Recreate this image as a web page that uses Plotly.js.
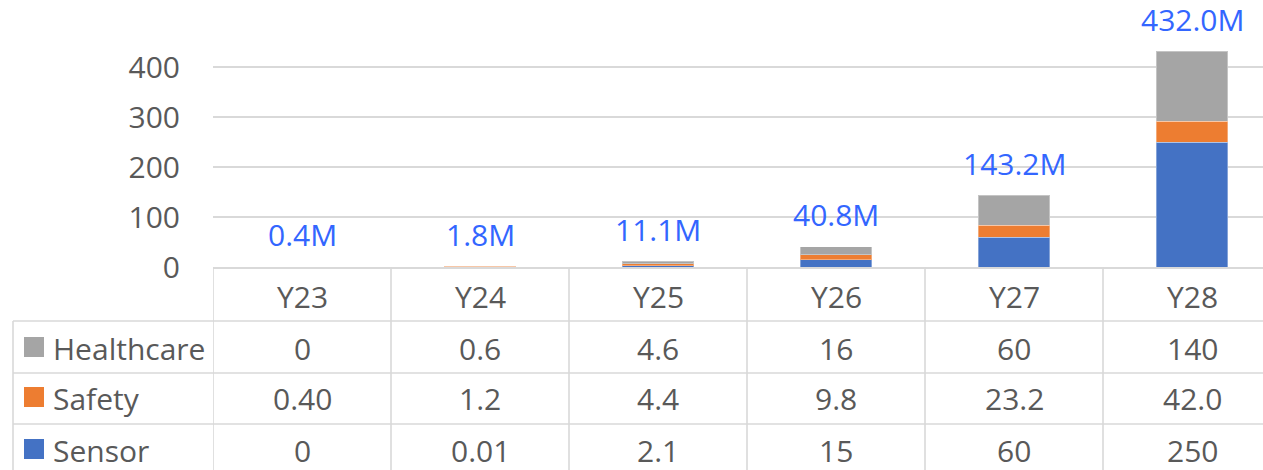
<!DOCTYPE html>
<html>
<head>
<meta charset="utf-8">
<script src="https://cdn.plot.ly/plotly-3.0.1.min.js"></script>
<style>
html,body{margin:0;padding:0;overflow:hidden;background:#fff;width:1263px;height:470px;}
#chart{width:1281px;height:470px;}
</style>
</head>
<body>
<div id="chart"></div>
<script>
// ---- data ----
const categories = ["Y23", "Y24", "Y25", "Y26", "Y27", "Y28"];
const sensor     = [0, 0.01, 2.1, 15, 60, 250];
const safety     = [0.4, 1.2, 4.4, 9.8, 23.2, 42.0];
const healthcare = [0, 0.6, 4.6, 16, 60, 140];
const sensorText     = ["0", "0.01", "2.1", "15", "60", "250"];
const safetyText     = ["0.40", "1.2", "4.4", "9.8", "23.2", "42.0"];
const healthcareText = ["0", "0.6", "4.6", "16", "60", "140"];
const yTicks = [0, 100, 200, 300, 400];

// ---- styling / geometry ----
const FONT = "Open Sans, Noto Sans, sans-serif";
const FS = 30;
const TXT = "#595959";
const LINE = "#d9d9d9";
const L = 213, T = 17, W = 1068, H = 250, FULLW = 1281, FULLH = 470;
const px = v => (v - L) / W;          // pixel x -> paper x
const py = v => (T + H - v) / H;      // pixel y -> paper y

const colors = {Healthcare: "#a5a5a5", Safety: "#ed7d31", Sensor: "#4472c4"};

const traces = [
  {name: "Sensor", y: sensor, color: colors.Sensor},
  {name: "Safety", y: safety, color: colors.Safety},
  {name: "Healthcare", y: healthcare, color: colors.Healthcare}
].map(s => ({
  type: "bar", x: categories, y: s.y, name: s.name,
  marker: {color: s.color, line: {color: "rgba(255,255,255,0.35)", width: 1}},
  hoverinfo: "x+y+name"
}));

const totals = categories.map((c, i) => sensor[i] + safety[i] + healthcare[i]);

const annotations = [];
// total labels
categories.forEach((c, i) => {
  annotations.push({
    x: c, y: totals[i], xref: "x", yref: "y",
    text: totals[i].toFixed(1) + "M", showarrow: false,
    yanchor: "middle", yshift: 32,
    font: {family: FONT, size: FS, color: "#3366ff"}
  });
});

// table rows
const rowCenters = [296, 348, 398, 450];
const rows = [
  {name: "Healthcare", text: healthcareText},
  {name: "Safety", text: safetyText},
  {name: "Sensor", text: sensorText}
];
categories.forEach((c, i) => {
  annotations.push({
    x: c, xref: "x", y: py(rowCenters[0]), yref: "paper",
    text: c, showarrow: false, yanchor: "middle",
    font: {family: FONT, size: FS, color: TXT}
  });
  rows.forEach((r, k) => {
    annotations.push({
      x: c, xref: "x", y: py(rowCenters[k + 1]), yref: "paper",
      text: r.text[i], showarrow: false, yanchor: "middle",
      font: {family: FONT, size: FS, color: TXT}
    });
  });
});
const shapes = [];
rows.forEach((r, k) => {
  annotations.push({
    x: px(51), xref: "paper", xanchor: "left",
    y: py(rowCenters[k + 1]), yref: "paper", yanchor: "middle",
    text: r.name, showarrow: false,
    font: {family: FONT, size: FS, color: TXT}
  });
  const cy = rowCenters[k + 1] - 1;
  shapes.push({
    type: "rect", xref: "paper", yref: "paper",
    x0: px(24), x1: px(44), y0: py(cy - 10), y1: py(cy + 10),
    fillcolor: colors[r.name], line: {width: 0}
  });
});

// table grid lines
const lw = 1.6;
[321, 373, 424].forEach(yy => {
  shapes.push({type: "line", xref: "paper", yref: "paper",
    x0: px(13), x1: 1, y0: py(yy), y1: py(yy), line: {color: LINE, width: lw}});
});
shapes.push({type: "line", xref: "paper", yref: "paper",
  x0: px(13), x1: px(13), y0: py(321), y1: py(FULLH + 5), line: {color: LINE, width: lw}});
for (let i = -1; i < categories.length; i++) {
  shapes.push({type: "line", xref: "x", yref: "paper",
    x0: i + 0.5, x1: i + 0.5, y0: py(267), y1: py(FULLH + 5), line: {color: LINE, width: lw}});
}

const layout = {
  width: FULLW, height: FULLH,
  margin: {l: L, r: FULLW - L - W, t: T, b: FULLH - T - H, pad: 0},
  paper_bgcolor: "#ffffff", plot_bgcolor: "#ffffff",
  barmode: "stack", bargap: 0.6,
  showlegend: false,
  font: {family: FONT, size: FS, color: TXT},
  xaxis: {
    type: "category", showticklabels: false, ticks: "",
    showgrid: false, zeroline: false,
    showline: true, linecolor: LINE, linewidth: lw,
    range: [-0.5, 5.5], fixedrange: true
  },
  yaxis: {
    range: [0, 500], tickvals: yTicks, ticktext: yTicks.map(String),
    showgrid: true, gridcolor: LINE, gridwidth: 1.4,
    zeroline: false, showline: false, ticks: "",
    ticklabelstandoff: 32,
    tickfont: {family: FONT, size: FS, color: TXT},
    fixedrange: true
  },
  annotations: annotations,
  shapes: shapes
};

Plotly.newPlot("chart", traces, layout, {displayModeBar: false, staticPlot: true});
</script>
</body>
</html>
